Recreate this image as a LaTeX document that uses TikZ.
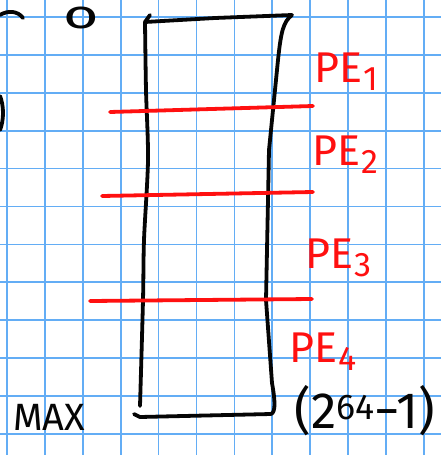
\documentclass[tikz,border=0pt]{standalone}
\usepackage{fontspec}
\setmainfont{Fira Sans}
\usepackage{xcolor}
\usepackage{tikz}
\usetikzlibrary{positioning}
\definecolor{gridblue}{HTML}{63ADF5}
\definecolor{penred}{HTML}{FF1010}
\definecolor{ink}{HTML}{050505}
\newcommand{\peidx}[1]{PE\kern1pt\raisebox{-0.35ex}{\fontsize{34}{34}\selectfont #1}}

\begin{document}
\begin{tikzpicture}[
  x=1pt, y=-1pt,
  gridline/.style={draw=gridblue, line width=1.7pt},
  pen/.style={draw=ink, line width=3.8pt, line cap=round, line join=round},
  redpen/.style={draw=penred, line width=3.8pt, line cap=round},
  pelabel/.style={text=penred, font=\fontsize{43}{43}\selectfont, inner sep=0pt},
  blacklabel/.style={text=ink, inner sep=0pt}
]
\useasboundingbox (0,0) rectangle (441,455);
\fill[white] (0,0) rectangle (441,455);

% squared paper
\foreach \k in {0,...,11} {
  \draw[gridline] ({7+37.9*\k},0) -- ({7+37.9*\k},455);
  \draw[gridline] (0,{17+37.9*\k}) -- (441,{17+37.9*\k});
}

% cut-off marks at the left edge
\draw[pen] (0,15) .. controls (8,10) and (18,11) .. (23,18);
\draw[pen] (0,96) .. controls (4,106) and (4,120) .. (0,130);
\node[blacklabel, font=\fontsize{42}{42}\selectfont, xscale=1.45, yscale=0.95, transform shape] (zero) at (81,17.5) {o};

% the memory column
\draw[pen] (150,15) -- (145,22) -- (215,18) -- (292,15)
  .. controls (283,22) and (281,32) .. (278,60) -- (269,150) -- (266,300)
  -- (272,383) .. controls (275,400) and (276,412) .. (271,414)
  -- (140,417) -- (134,414);
\draw[pen] plot[smooth] coordinates {(145,22) (146,90) (148,160) (144,240) (143,300) (140,406)};

% partition lines
\draw[redpen] (110,112) -- (313,106);
\draw[redpen] (102,196) -- (313,192);
\draw[redpen] (90,301) -- (312,299);

% partition labels
\node[pelabel] (pe1) at (346,72) {\peidx{1}};
\node[pelabel] (pe2) at (345,155) {\peidx{2}};
\node[pelabel] (pe3) at (338,258) {\peidx{3}};
\node[pelabel] (pe4) at (323,352) {\peidx{4}};

% bottom labels
\node[blacklabel, font=\fontsize{38}{38}\selectfont] (max) at (49,417) {MAX};
\node[blacklabel, font=\fontsize{51}{51}\selectfont] (maxval) at (365,411) {(2\textsuperscript{64}−1)};
\end{tikzpicture}
\end{document}
